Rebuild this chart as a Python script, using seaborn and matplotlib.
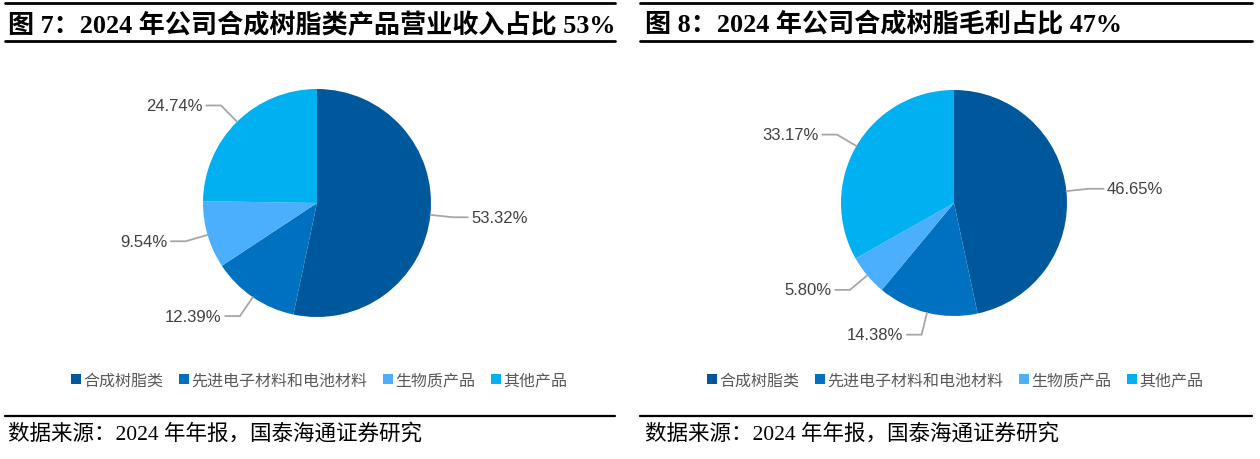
import numpy as np
import matplotlib
matplotlib.use("Agg")
import matplotlib.pyplot as plt
from matplotlib.patches import Patch
from matplotlib.lines import Line2D
import seaborn as sns

# 数据
categories = ["合成树脂类", "先进电子材料和电池材料", "生物质产品", "其他产品"]
revenue_share = [53.32, 12.39, 9.54, 24.74]
profit_share = [46.65, 14.38, 5.80, 33.17]
titles = ["图 7：2024 年公司合成树脂类产品营业收入占比 53%",
          "图 8：2024 年公司合成树脂毛利占比 47%"]
source_text = "数据来源：2024 年年报，国泰海通证券研究"

sns.set_theme(style="white")
plt.rcParams['font.family'] = ['Noto Sans CJK SC', 'DejaVu Sans']

colors = ["#00589C", "#0070C0", "#4BAFFD", "#00B0F0"]
W, H = 1260, 460
fig = plt.figure(figsize=(W / 100, H / 100), dpi=100)


def fy(y):
    return 1 - y / H


def hline(x0, x1, y, lw=1.6):
    fig.add_artist(Line2D([x0 / W, x1 / W], [fy(y), fy(y)], transform=fig.transFigure,
                          color="black", lw=lw))


def draw_pie(values, cx, cy, r):
    w, h = 440, 290
    ax = fig.add_axes([(cx - w / 2) / W, fy(cy + h / 2), w / W, h / H])
    wedges, _ = ax.pie(values, colors=colors, startangle=90, counterclock=False,
                       radius=1, wedgeprops=dict(linewidth=0))
    for wd, v in zip(wedges, values):
        theta = np.deg2rad((wd.theta1 + wd.theta2) / 2)
        c, s = np.cos(theta), np.sin(theta)
        p0 = (c, s)
        p1 = (1.2 * c, 1.2 * s)
        side = 1 if c >= 0 else -1
        p2 = (p1[0] + side * 0.13, p1[1])
        ax.plot([p0[0], p1[0], p2[0]], [p0[1], p1[1], p2[1]], color="#A6A6A6", lw=1.3,
                solid_joinstyle="miter")
        ax.text(p2[0] + side * 0.03, p2[1], f"{v:.2f}%", ha="left" if side > 0 else "right",
                va="center", fontsize=12, color="#404040", family=["Liberation Sans"])
    ax.set_xlim(-w / 2 / r, w / 2 / r)
    ax.set_ylim(-h / 2 / r, h / 2 / r)
    ax.axis("off")


draw_pie(revenue_share, 317, 204, 114)
draw_pie(profit_share, 954, 204, 113)

title_font = ["Liberation Serif", "Noto Sans CJK SC"]
for x0, x1, tx, title, lx in [(5, 615, 8, titles[0], 319), (640, 1252, 645, titles[1], 955)]:
    hline(x0, x1, 4, lw=2)
    fig.text(tx / W, fy(25), title, fontsize=18.8, fontweight="bold", family=title_font,
             ha="left", va="center", color="black")
    hline(x0, x1, 42, lw=2)
    hline(x0, x1, 417, lw=1.6)
    fig.text(tx / W, fy(434), source_text, fontsize=15.5, family=title_font,
             ha="left", va="center", color="black")
    handles = [Patch(facecolor=c, edgecolor="none") for c in colors]
    fig.legend(handles, categories, loc="center", bbox_to_anchor=(lx / W, fy(381)), ncol=4,
               frameon=False, handlelength=0.6, handleheight=0.6, handletextpad=0.15,
               columnspacing=1.0, fontsize=11.5, labelcolor="#595959")

fig.savefig("out.png", dpi=100)
